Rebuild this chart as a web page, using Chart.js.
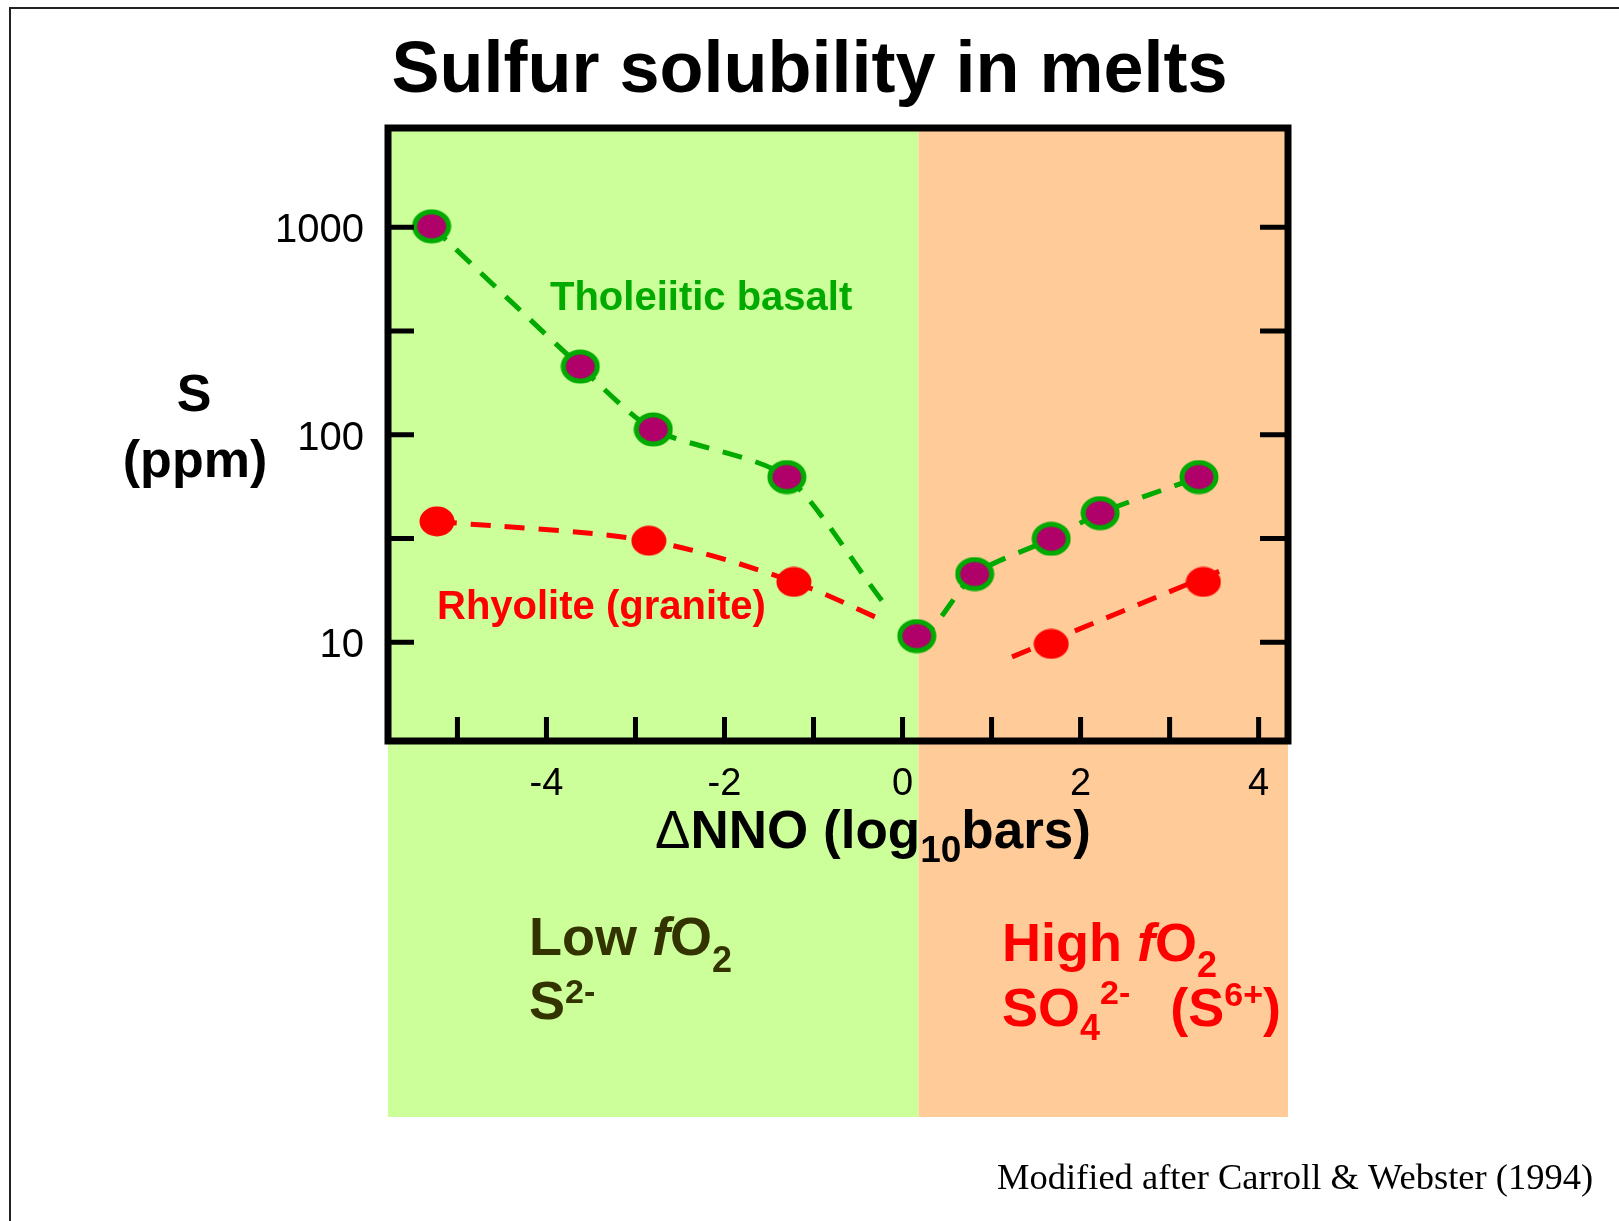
<!DOCTYPE html>
<html>
<head>
<meta charset="utf-8">
<title>Sulfur solubility in melts</title>
<script src="https://cdn.jsdelivr.net/npm/chart.js@4.4.1/dist/chart.umd.min.js"></script>
<style>
  html, body { margin: 0; padding: 0; background: #fff; }
  #chart { display: block; }
</style>
</head>
<body>
<canvas id="chart" width="1619" height="1221"></canvas>
<script>
// ΔNNO (log10 bars) against S (ppm)
const basaltX = [-5.29, -3.62, -2.80, -1.30, 0.16, 0.81, 1.67, 2.22, 3.33];
const basaltS = [1010, 213, 106, 62.5, 10.7, 21.3, 31.5, 41.9, 62.5];

// low-fO2 rhyolite curve runs into the basalt point near ΔNNO 0
const rhyoliteLowX = [-5.23, -2.85, -1.22, 0.16];
const rhyoliteLowS = [38.2, 30.8, 19.5, 10.7];

const rhyoliteHighX = [1.67, 3.38];
const rhyoliteHighS = [9.8, 19.5];

// dashed trend drawn through the high-fO2 rhyolite points
const rhyoliteTrendX = [1.23, 3.67];
const rhyoliteTrendS = [8.5, 23.0];

// boundary between the low and high fO2 fields
const regionSplitX = 0.18;

const xTickValues = [-5, -4, -3, -2, -1, 0, 1, 2, 3, 4];
const xTickLabels = ['', '-4', '', '-2', '', '0', '', '2', '', '4'];
const yTickValues = [10, 31.6, 100, 316, 1000];
const yTickLabels = ['10', '', '100', '', '1000'];

const SANS = "'Liberation Sans', Arial, Helvetica, sans-serif";
const SERIF = "'Liberation Serif', 'Times New Roman', serif";
const GREEN = '#00AA00';
const RED = '#FF0000';
const PURPLE = '#B0006A';
const DASH = [20, 14];

const toPoints = (xs, ys) => xs.map((x, i) => ({ x: x, y: ys[i] }));

// slightly flattened round markers, used as pointStyle images
function ovalMarker(w, h, fill, stroke, lw) {
  const c = document.createElement('canvas');
  c.width = w;
  c.height = h;
  const g = c.getContext('2d');
  g.beginPath();
  g.ellipse(w / 2, h / 2, w / 2 - lw / 2 - 0.5, h / 2 - lw / 2 - 0.5, 0, 0, Math.PI * 2);
  g.fillStyle = fill;
  g.fill();
  if (lw) {
    g.lineWidth = lw;
    g.strokeStyle = stroke;
    g.stroke();
  }
  return c;
}
const basaltMarker = ovalMarker(40, 35, PURPLE, GREEN, 5);
const rhyoliteMarker = ovalMarker(36, 31, RED, RED, 0);

// the curves stop short of the shared point near ΔNNO 0
const lastSegmentDash = (n, dash) => ctx => ctx.p1DataIndex === n ? dash : undefined;

// draws a run of text pieces (sub/superscripts, italics) left to right
function drawRich(ctx, x, y, parts) {
  let cx = x;
  parts.forEach(p => {
    if (p.gap) { cx += p.gap; return; }
    ctx.font = (p.italic ? 'italic ' : '') + (p.weight || 'bold') + ' ' + p.size + 'px ' + SANS;
    ctx.fillText(p.t, cx, y + (p.dy || 0));
    cx += ctx.measureText(p.t).width;
  });
  return cx - x;
}

function richWidth(ctx, parts) {
  let w = 0;
  parts.forEach(p => {
    if (p.gap) { w += p.gap; return; }
    ctx.font = (p.italic ? 'italic ' : '') + (p.weight || 'bold') + ' ' + p.size + 'px ' + SANS;
    w += ctx.measureText(p.t).width;
  });
  return w;
}

const decorations = {
  id: 'decorations',
  beforeDraw(chart) {
    const { ctx, chartArea: a } = chart;
    const split = chart.scales.x.getPixelForValue(regionSplitX);
    const bandBottom = 1117;
    ctx.save();
    ctx.fillStyle = '#fff';
    ctx.fillRect(0, 0, chart.width, chart.height);
    ctx.fillStyle = '#CCFF99';
    ctx.fillRect(a.left, a.top, split - a.left, bandBottom - a.top);
    ctx.fillStyle = '#FFCC99';
    ctx.fillRect(split, a.top, a.right - split, bandBottom - a.top);

    // slide border
    ctx.strokeStyle = '#222';
    ctx.lineWidth = 2;
    ctx.beginPath();
    ctx.moveTo(10, chart.height);
    ctx.lineTo(10, 8);
    ctx.lineTo(chart.width, 8);
    ctx.stroke();
    ctx.restore();
  },
  afterDatasetsDraw(chart) {
    const { ctx, chartArea: a, scales: { x, y } } = chart;
    ctx.save();
    ctx.strokeStyle = '#000';
    ctx.lineWidth = 5;
    ctx.beginPath();
    x.ticks.forEach(t => {
      const px = x.getPixelForValue(t.value);
      ctx.moveTo(px, a.bottom);
      ctx.lineTo(px, a.bottom - 24);
    });
    y.ticks.forEach(t => {
      const py = y.getPixelForValue(t.value);
      ctx.moveTo(a.left, py);
      ctx.lineTo(a.left + 26, py);
      ctx.moveTo(a.right, py);
      ctx.lineTo(a.right - 28, py);
    });
    ctx.stroke();

    ctx.lineWidth = 7;
    ctx.strokeRect(a.left, a.top, a.right - a.left, a.bottom - a.top);
    ctx.restore();
  },
  afterDraw(chart) {
    const ctx = chart.ctx;
    ctx.save();
    ctx.textBaseline = 'alphabetic';

    // y axis title
    ctx.fillStyle = '#000';
    ctx.textAlign = 'center';
    ctx.font = 'bold 52px ' + SANS;
    ctx.fillText('S', 194, 411);
    ctx.fillText('(ppm)', 195, 477);

    // x axis title with subscript
    ctx.textAlign = 'left';
    const xTitle = [
      { t: '\u0394', size: 53, weight: 'normal' },
      { t: 'NNO (log', size: 53 },
      { t: '10', size: 37, dy: 14 },
      { t: 'bars)', size: 53 }
    ];
    drawRich(ctx, 873 - richWidth(ctx, xTitle) / 2, 848, xTitle);

    // series labels
    ctx.font = 'bold 40px ' + SANS;
    ctx.fillStyle = GREEN;
    ctx.fillText('Tholeiitic basalt', 550, 310);
    ctx.fillStyle = RED;
    ctx.fillText('Rhyolite (granite)', 437, 619);

    // field labels
    ctx.fillStyle = '#333300';
    drawRich(ctx, 529, 955, [
      { t: 'Low ', size: 54 },
      { t: 'f', size: 54, italic: true },
      { t: 'O', size: 54 },
      { t: '2', size: 36, dy: 17 }
    ]);
    drawRich(ctx, 529, 1019, [
      { t: 'S', size: 54 },
      { t: '2-', size: 34, dy: -16 }
    ]);

    ctx.fillStyle = RED;
    drawRich(ctx, 1002, 961, [
      { t: 'High ', size: 54 },
      { t: 'f', size: 54, italic: true },
      { t: 'O', size: 54 },
      { t: '2', size: 36, dy: 16 }
    ]);
    drawRich(ctx, 1002, 1026, [
      { t: 'SO', size: 54 },
      { t: '4', size: 36, dy: 14 },
      { t: '2-', size: 34, dy: -22 },
      { gap: 40 },
      { t: '(S', size: 54 },
      { t: '6+', size: 34, dy: -20 },
      { t: ')', size: 54 }
    ]);

    // source note
    ctx.fillStyle = '#000';
    ctx.font = '36.5px ' + SERIF;
    ctx.fillText('Modified after Carroll & Webster (1994)', 997, 1189);
    ctx.restore();
  }
};

new Chart(document.getElementById('chart'), {
  type: 'scatter',
  data: {
    datasets: [
      {
        label: 'Tholeiitic basalt',
        data: toPoints(basaltX, basaltS),
        showLine: true,
        borderColor: GREEN,
        borderWidth: 5,
        borderDash: DASH,
        tension: 0.25,
        segment: { borderDash: lastSegmentDash(4, [20, 14, 20, 14, 20, 14, 20, 14, 20, 200]) },
        pointRadius: 18,
        pointStyle: basaltMarker
      },
      {
        label: 'Rhyolite (granite)',
        data: toPoints(rhyoliteLowX, rhyoliteLowS),
        showLine: true,
        borderColor: RED,
        borderWidth: 5,
        borderDash: DASH,
        tension: 0.3,
        segment: { borderDash: lastSegmentDash(3, [20, 14, 20, 14, 20, 200]) },
        pointRadius: ctx => ctx.dataIndex === rhyoliteLowX.length - 1 ? 0 : 17,
        pointStyle: rhyoliteMarker
      },
      {
        label: 'Rhyolite (granite), high fO2',
        data: toPoints(rhyoliteHighX, rhyoliteHighS),
        showLine: false,
        pointRadius: 17,
        pointStyle: rhyoliteMarker
      },
      {
        label: 'Rhyolite trend',
        data: toPoints(rhyoliteTrendX, rhyoliteTrendS),
        showLine: true,
        borderColor: RED,
        borderWidth: 5,
        borderDash: DASH,
        tension: 0,
        pointRadius: 0
      }
    ]
  },
  options: {
    responsive: false,
    animation: false,
    devicePixelRatio: 1,
    layout: { padding: 0 },
    plugins: {
      legend: { display: false },
      tooltip: { enabled: false },
      title: {
        display: true,
        text: 'Sulfur solubility in melts',
        color: '#000',
        font: { family: SANS, size: 72, weight: 'bold' },
        padding: { top: 29, bottom: 12.6 }
      }
    },
    scales: {
      x: {
        type: 'linear',
        min: -5.78,
        max: 4.33,
        afterBuildTicks: s => { s.ticks = xTickValues.map(v => ({ value: v })); },
        afterFit: s => { s.height = 480; },
        grid: { display: false, drawTicks: false },
        border: { display: false },
        ticks: {
          autoSkip: false,
          maxRotation: 0,
          padding: 21,
          color: '#000',
          font: { family: SANS, size: 38 },
          callback: (v, i) => xTickLabels[i]
        }
      },
      y: {
        type: 'logarithmic',
        min: 3.34,
        max: 3006,
        afterBuildTicks: s => { s.ticks = yTickValues.map(v => ({ value: v })); },
        afterFit: s => { s.width = 388; },
        grid: { display: false, drawTicks: false },
        border: { display: false },
        ticks: {
          autoSkip: false,
          padding: 24,
          labelOffset: 4,
          color: '#000',
          font: { family: SANS, size: 40 },
          callback: (v, i) => yTickLabels[i]
        }
      },
      y2: {
        position: 'right',
        type: 'linear',
        grid: { display: false },
        border: { display: false },
        ticks: { display: false },
        afterFit: s => { s.width = 331; }
      }
    }
  },
  plugins: [decorations]
});
</script>
</body>
</html>
